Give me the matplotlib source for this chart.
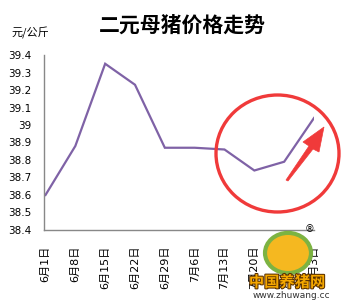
import numpy as np
import matplotlib
matplotlib.use("Agg")
import matplotlib.pyplot as plt
import matplotlib.patheffects as pe
from matplotlib.patches import Ellipse, Circle, Polygon

plt.rcParams['font.family'] = ['DejaVu Sans', 'Noto Sans CJK SC']

dates = ["6月1日", "6月8日", "6月15日", "6月22日", "6月29日",
         "7月6日", "7月13日", "7月20日", "7月27日", "8月3日"]
prices = [38.60, 38.88, 39.35, 39.23, 38.87, 38.87, 38.86, 38.74, 38.79, 39.04]
yticks = [38.4, 38.5, 38.6, 38.7, 38.8, 38.9, 39.0, 39.1, 39.2, 39.3, 39.4]
ylabels = ["38.4", "38.5", "38.6", "38.7", "38.8", "38.9", "39", "39.1", "39.2", "39.3", "39.4"]

W, H = 348, 304
fig = plt.figure(figsize=(W / 100, H / 100), dpi=100)


def px(x, y):
    return (x / W, 1 - y / H)


ax = fig.add_axes([44 / W, 1 - 230 / H, (314 - 44) / W, (230 - 55) / H])
x = np.arange(len(prices))
ax.plot(x, prices, color="#7f62a6", lw=1.6, solid_joinstyle="miter")
ax.set_xlim(-0.05, 9)
ax.set_ylim(38.4, 39.4)
ax.set_yticks(yticks)
ax.set_yticklabels(ylabels, fontsize=7.5)
ax.set_xticks(x)
ax.set_xticklabels(dates, rotation=90, fontsize=8, va="top")
ax.tick_params(axis="y", length=0, pad=9)
ax.tick_params(axis="x", length=0, pad=11)
for s in ["top", "right"]:
    ax.spines[s].set_visible(False)
for s in ["left", "bottom"]:
    ax.spines[s].set_color("#888888")
    ax.spines[s].set_linewidth(1)

fig.text(*px(182, 25), "二元母猪价格走势", ha="center", va="center",
         fontsize=15, fontweight="bold", family=["Noto Sans CJK SC"])
fig.text(*px(30, 33), "元/公斤", ha="center", va="center", fontsize=8,
         family=["Noto Sans CJK SC"])

# red highlight circle and tapered arrow
red = "#f03a3a"
fig.add_artist(Ellipse(px(277.5, 153.5), 123 / W, 117 / H, transform=fig.transFigure,
                       fill=False, ec=red, lw=2.4, zorder=10))
arrow_pts = [(286, 180), (309, 146), (303, 142), (324, 127), (319, 152), (313, 149), (288, 181)]
fig.add_artist(Polygon([px(a, b) for a, b in arrow_pts], closed=True,
                       transform=fig.transFigure, fc=red, ec=red, lw=0.5, zorder=10))

# logo
fig.add_artist(Circle(px(288, 253), 23 / W, transform=fig.transFigure,
                      fc="#f5b820", ec="#7cb342", lw=3, zorder=11))
fig.text(*px(310, 229), "®", ha="center", va="center", fontsize=7, zorder=12)
fig.text(*px(287, 282), "中国养猪网", ha="center", va="center", fontsize=11,
         fontweight="bold", color="#f5a800", family=["Noto Sans CJK SC"], zorder=12,
         path_effects=[pe.withStroke(linewidth=1.5, foreground="#5a3000")])
fig.text(*px(291, 296), "www.zhuwang.cc", ha="center", va="center",
         fontsize=6.5, color="#333333", zorder=12)

fig.savefig("out.png", dpi=100)
